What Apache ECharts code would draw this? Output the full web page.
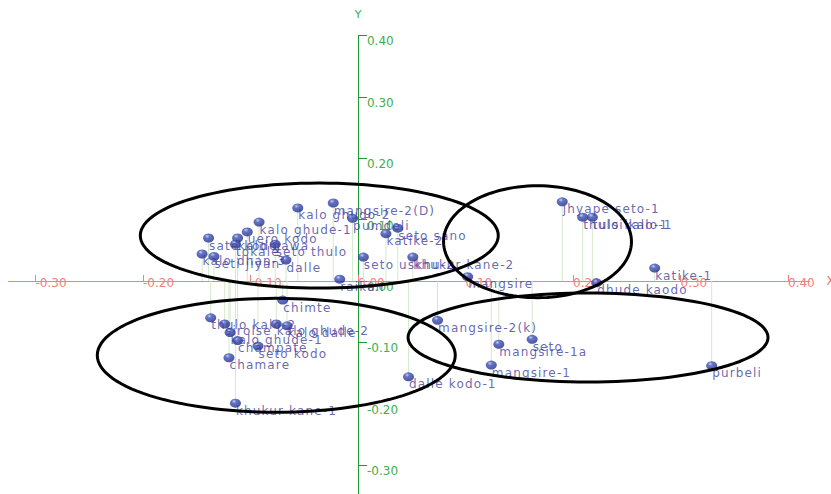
<!DOCTYPE html>
<html>
<head>
<meta charset="utf-8">
<script src="https://cdn.jsdelivr.net/npm/echarts@6/dist/echarts.min.js"></script>
<style>
  html, body { margin: 0; padding: 0; background: #ffffff; }
  #chart { width: 831px; height: 494px; }
  /* point labels are set a little wider than the axis labels */
  #chart text[fill="#3f3f9c"] { letter-spacing: 1.15px; }
</style>
</head>
<body>
<div id="chart"></div>
<script>
// Variety scores on the first two axes
const names = [
  'mangsire-2(D)', 'kalo ghudo-2', 'pumdeli', 'kalo ghude-1', 'seto sano', 'katike-2',
  'seto uskhu-2', 'khukur kane-2', 'mangsire', 'raikan',
  'uero kodo', 'sate kodo', 'kalo gawa', 'tokale', 'seto thulo', 'kalo dhan-3', 'seti jiyan', 'dalle',
  'chimte', 'thulo kalo-2', 'sirolse', 'kalo ghude-2', 'kalo dalle', 'kalo ghude-1', 'champate',
  'seto kodo', 'chamare', 'khukur kane-1',
  'jhyape seto-1', 'thulo kalo-1', 'tulsi kalo-1', 'katike-1', 'dhude kaodo', 'purbeli',
  'mangsire-2(k)', 'mangsire-1a', 'seto', 'mangsire-1', 'dalle kodo-1'
];
const xValues = [
  -0.023, -0.056, -0.005, -0.092, 0.037, 0.026,
  0.005, 0.051, 0.102, -0.017,
  -0.103, -0.139, -0.112, -0.114, -0.077, -0.145, -0.134, -0.067,
  -0.070, -0.137, -0.124, -0.076, -0.066, -0.119, -0.112,
  -0.093, -0.120, -0.114,
  0.190, 0.209, 0.218, 0.276, 0.222, 0.329,
  0.074, 0.131, 0.162, 0.124, 0.047
];
const yValues = [
  0.127, 0.119, 0.102, 0.096, 0.086, 0.077,
  0.039, 0.039, 0.007, 0.003,
  0.080, 0.070, 0.070, 0.060, 0.060, 0.044, 0.040, 0.034,
  -0.031, -0.060, -0.070, -0.070, -0.073, -0.084, -0.097,
  -0.106, -0.125, -0.199,
  0.129, 0.104, 0.104, 0.021, -0.003, -0.138,
  -0.064, -0.103, -0.095, -0.137, -0.156
];

// Group outlines: centre x, centre y, half-width, half-height (axis units)
const groupCx = [-0.036, 0.167, -0.076, 0.214];
const groupCy = [0.074, 0.064, -0.121, -0.092];
const groupRx = [0.1665, 0.0874, 0.1665, 0.1674];
const groupRy = [0.0855, 0.0912, 0.0928, 0.0725];

const xTicks = [-0.3, -0.2, -0.1, 0.0, 0.1, 0.2, 0.3, 0.4];
const yTicks = [-0.3, -0.2, -0.1, 0.0, 0.1, 0.2, 0.3, 0.4];

const points = names.map((n, i) => ({ name: n, value: [xValues[i], yValues[i]] }));
const ellipses = groupCx.map((c, i) => [c, groupCy[i], groupRx[i], groupRy[i]]);

const sphere = {
  type: 'radial', x: 0.38, y: 0.3, r: 0.75,
  colorStops: [
    { offset: 0, color: '#b3bff0' },
    { offset: 0.3, color: '#3d4fb5' },
    { offset: 1, color: '#1d2b82' }
  ]
};

const chart = echarts.init(document.getElementById('chart'), null, { renderer: 'svg' });

const option = {
  animation: false,
  backgroundColor: '#ffffff',
  grid: { left: 8.6, right: 21.5, top: 35.4, bottom: -1.9, containLabel: false, outerBoundsMode: 'none' },
  xAxis: {
    type: 'value',
    position: 'bottom',
    min: -0.325,
    max: 0.42,
    name: 'X',
    nameLocation: 'end',
    nameGap: 17,
    nameTextStyle: { color: '#f07070', fontFamily: 'DejaVu Sans', fontSize: 12 },
    axisLine: { onZero: false, lineStyle: { color: '#f47f7f', width: 1 } },
    axisTick: { show: true, inside: true, length: 6, customValues: xTicks, lineStyle: { color: '#f47f7f' } },
    axisLabel: {
      show: true, customValues: xTicks, align: 'left', verticalAlign: 'middle', margin: 2,
      color: '#f28080', fontFamily: 'DejaVu Sans', fontSize: 12,
      formatter: v => v.toFixed(2)
    },
    splitLine: { show: false }
  },
  yAxis: {
    type: 'value',
    position: 'left',
    min: -0.35,
    max: 0.40,
    name: 'Y',
    nameLocation: 'end',
    nameGap: 15,
    nameTextStyle: { color: '#3daa48', fontFamily: 'DejaVu Sans', fontSize: 11, align: 'center' },
    axisLine: { onZero: false, lineStyle: { color: '#1f9a36', width: 1 } },
    axisTick: { show: true, inside: true, length: 9, customValues: yTicks, lineStyle: { color: '#1f9a36' } },
    axisLabel: {
      show: true, inside: true, customValues: yTicks, margin: 9, verticalAlign: 'top',
      color: '#43ad4c', fontFamily: 'DejaVu Sans', fontSize: 12,
      formatter: v => v.toFixed(2)
    },
    splitLine: { show: false }
  },
  series: [
    {
      // drop lines from each point to the horizontal axis
      type: 'custom',
      z: 1,
      silent: true,
      data: points.map(p => p.value),
      renderItem: function (params, api) {
        const top = api.coord([api.value(0), api.value(1)]);
        const base = api.coord([api.value(0), 0]);
        return {
          type: 'line',
          shape: { x1: top[0], y1: top[1], x2: base[0], y2: base[1] },
          style: { stroke: '#d3eacb', lineWidth: 1 }
        };
      }
    },
    {
      type: 'scatter',
      z: 3,
      symbol: 'circle',
      symbolSize: [11, 9],
      itemStyle: { color: sphere },
      label: {
        show: true,
        formatter: p => p.name,
        position: [6, 6],
        align: 'left',
        verticalAlign: 'top',
        color: '#3f3f9c',
        fontFamily: 'DejaVu Sans',
        fontSize: 12
      },
      labelLayout: { hideOverlap: false },
      data: points
    },
    {
      // group outlines
      type: 'custom',
      z: 5,
      silent: true,
      data: ellipses,
      renderItem: function (params, api) {
        const c = api.coord([api.value(0), api.value(1)]);
        const s = api.size([api.value(2), api.value(3)]);
        const pts = [];
        for (let k = 0; k < 120; k++) {
          const a = (k / 120) * Math.PI * 2;
          pts.push([c[0] + s[0] * Math.cos(a), c[1] + s[1] * Math.sin(a)]);
        }
        return {
          type: 'polygon',
          shape: { points: pts },
          style: { fill: 'none', stroke: '#000000', lineWidth: 3 }
        };
      }
    }
  ]
};
chart.setOption(option);

// Move both axes so they cross at the origin, carrying ticks and labels along
const origin = chart.convertToPixel({ gridIndex: 0 }, [0, 0]);
const rect = chart.getModel().getComponent('grid', 0).coordinateSystem.getRect();
chart.setOption({
  xAxis: { offset: origin[1] - (rect.y + rect.height) },
  yAxis: { offset: rect.x - origin[0] }
});
</script>
</body>
</html>
